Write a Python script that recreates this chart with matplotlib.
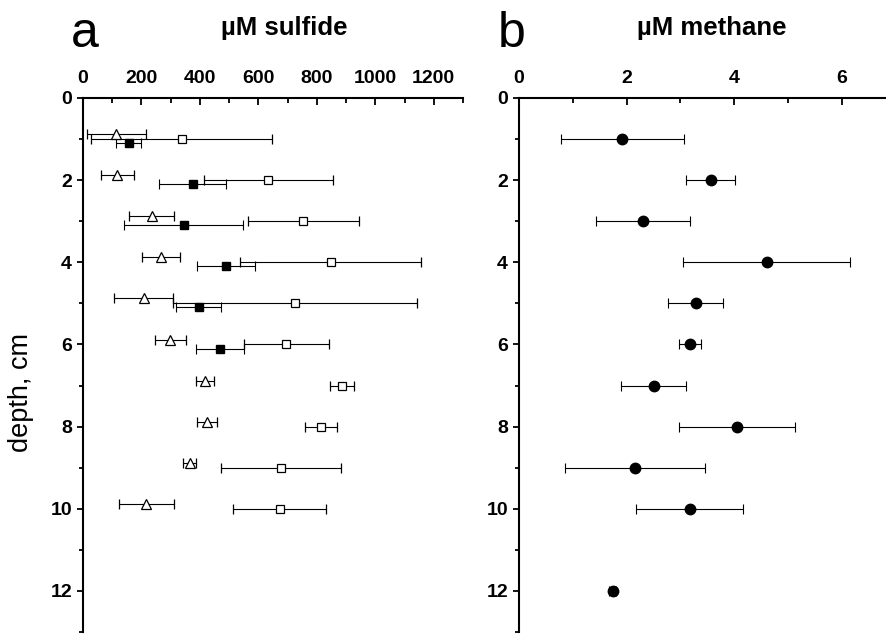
import matplotlib
matplotlib.use("Agg")
import matplotlib.pyplot as plt
from matplotlib.ticker import MultipleLocator

plt.rcParams['font.family'] = ['Liberation Sans', 'DejaVu Sans']

# a: sulfide profiles (uM), three cores
depth = [1, 2, 3, 4, 5, 6, 7, 8, 9, 10]
tri_x = [114, 117, 236, 266, 207, 299, 417, 425, 365, 217]
tri_err = [100, 56, 77, 65, 100, 52, 31, 35, 22, 95]
open_x = [337, 634, 754, 847, 724, 696, 886, 815, 676, 673]
open_err = [310, 220, 189, 310, 417, 144, 40, 55, 205, 160]
fill_depth = [1, 2, 3, 4, 5, 6]
fill_x = [157, 375, 344, 490, 396, 469]
fill_err = [43, 115, 203, 100, 77, 81]

# b: methane (uM)
ch4_depth = [1, 2, 3, 4, 5, 6, 7, 8, 9, 10, 12]
ch4 = [1.92, 3.56, 2.31, 4.60, 3.28, 3.18, 2.50, 4.05, 2.16, 3.17, 1.74]
ch4_err = [1.14, 0.46, 0.87, 1.56, 0.51, 0.21, 0.61, 1.08, 1.30, 1.0, 0.07]

W, H = 886, 635
fig = plt.figure(figsize=(W / 100, H / 100), dpi=100)

def px_axes(l, t, r, b):
    return fig.add_axes([l / W, 1 - b / H, (r - l) / W, (b - t) / H])

axa = px_axes(83, 98, 463, 632)
axb = px_axes(519, 98, 886, 632)

eb = dict(color='black', elinewidth=0.8, capsize=3.6, capthick=0.8, ls='none')

axa.errorbar(tri_x, [d - 0.12 for d in depth], xerr=tri_err, marker='^', ms=7,
             mfc='white', mec='black', mew=0.9, **eb)
axa.errorbar(open_x, depth, xerr=open_err, marker='s', ms=5.5,
             mfc='white', mec='black', mew=0.9, **eb)
axa.errorbar(fill_x, [d + 0.1 for d in fill_depth], xerr=fill_err, marker='s', ms=5.5,
             mfc='black', mec='black', **eb)

axb.errorbar(ch4, ch4_depth, xerr=ch4_err, marker='o', ms=7.5,
             mfc='black', mec='black', **eb)

axa.set_xlim(0, 1300)
axb.set_xlim(0, 6.82)
axa.xaxis.set_major_locator(MultipleLocator(200))
axa.xaxis.set_minor_locator(MultipleLocator(100))
axb.xaxis.set_major_locator(MultipleLocator(2))
axb.xaxis.set_minor_locator(MultipleLocator(1))

for ax in (axa, axb):
    ax.set_ylim(13, 0)
    ax.yaxis.set_major_locator(MultipleLocator(2))
    ax.yaxis.set_minor_locator(MultipleLocator(1))
    ax.xaxis.tick_top()
    ax.spines['right'].set_visible(False)
    ax.spines['bottom'].set_visible(False)
    ax.spines['top'].set_linewidth(1.5)
    ax.spines['left'].set_linewidth(1.5)
    ax.tick_params(axis='x', which='both', direction='in', width=1.3, pad=8,
                   labelsize=14, top=True, bottom=False)
    ax.tick_params(axis='x', which='major', length=5)
    ax.tick_params(axis='x', which='minor', length=3.5)
    ax.tick_params(axis='y', which='both', direction='out', width=1.3, pad=4,
                   labelsize=14, right=False)
    ax.tick_params(axis='y', which='major', length=4)
    ax.tick_params(axis='y', which='minor', length=3)
    for lab in ax.get_xticklabels() + ax.get_yticklabels():
        lab.set_fontweight('bold')

fig.text(85 / W, 1 - 47 / H, 'a', fontsize=36, ha='center', va='baseline')
fig.text(512 / W, 1 - 47 / H, 'b', fontsize=36, ha='center', va='baseline')
fig.text(284 / W, 1 - 35 / H, 'µM sulfide', fontsize=18.5, fontweight='bold',
         ha='center', va='baseline')
fig.text(712 / W, 1 - 35 / H, 'µM methane', fontsize=18.5, fontweight='bold',
         ha='center', va='baseline')
fig.text(21 / W, 1 - 393 / H, 'depth, cm', fontsize=19.5, rotation=90,
         ha='center', va='center')

fig.savefig('out.png', dpi=100)
